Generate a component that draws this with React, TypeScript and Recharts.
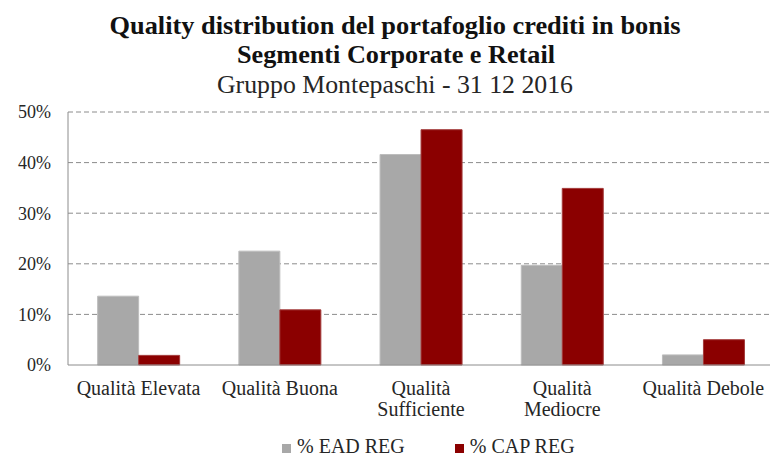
import { BarChart, Bar, XAxis, YAxis, CartesianGrid } from "recharts";

const categories = [
  "Qualità Elevata",
  "Qualità Buona",
  "Qualità Sufficiente",
  "Qualità Mediocre",
  "Qualità Debole",
];
const tickLines = [
  ["Qualità Elevata"],
  ["Qualità Buona"],
  ["Qualità", "Sufficiente"],
  ["Qualità", "Mediocre"],
  ["Qualità Debole"],
];
const eadReg = [13.6, 22.5, 41.6, 19.7, 2.0];
const capReg = [1.9, 10.9, 46.5, 34.9, 5.0];
const yTicks = [0, 10, 20, 30, 40, 50];
const seriesNames = ["% EAD REG", "% CAP REG"];
const seriesColors = ["#A8A8A8", "#8B0000"];
const seriesStrokes = ["#BDBDBD", "#A33A3A"];
const titleLines = [
  "Quality distribution del portafoglio crediti in bonis",
  "Segmenti Corporate e Retail",
  "Gruppo Montepaschi - 31 12 2016",
];

const data = categories.map((name, i) => ({
  name,
  ead: eadReg[i],
  cap: capReg[i],
}));

const FONT = "'Liberation Serif', 'Times New Roman', serif";

function CategoryTick(props: any) {
  const { x, y, payload } = props;
  const lines = tickLines[payload.index] || [payload.value];
  return (
    <text x={x} y={y} textAnchor="middle" fontFamily={FONT} fontSize={20} fill="#262626">
      {lines.map((l: string, i: number) => (
        <tspan key={i} x={x} dy={i === 0 ? 22 : 21}>
          {l}
        </tspan>
      ))}
    </text>
  );
}

export default function App() {
  return (
    <div
      style={{
        position: "absolute",
        left: 0,
        top: 0,
        width: 770,
        height: 457,
        overflow: "hidden",
        background: "#fff",
        fontFamily: FONT,
      }}
    >
      <svg width={770} height={110} style={{ position: "absolute", left: 0, top: 0 }}>
        <text x={395} y={34} textAnchor="middle" fontFamily={FONT} fontSize={25} fontWeight="bold" fill="#111"
          textLength={571} lengthAdjust="spacingAndGlyphs">
          {titleLines[0]}
        </text>
        <text x={396} y={63} textAnchor="middle" fontFamily={FONT} fontSize={25} fontWeight="bold" fill="#111"
          textLength={318} lengthAdjust="spacingAndGlyphs">
          {titleLines[1]}
        </text>
        <text x={395} y={93} textAnchor="middle" fontFamily={FONT} fontSize={25} fill="#262626"
          textLength={356} lengthAdjust="spacingAndGlyphs">
          {titleLines[2]}
        </text>
      </svg>
      <div style={{ position: "absolute", left: 0, top: 0 }}>
        <BarChart
          width={774}
          height={457}
          data={data}
          margin={{ top: 112, right: 0, bottom: 0, left: 0 }}
          barCategoryGap="21%"
          barGap={0}
        >
          <CartesianGrid
            vertical={false}
            stroke="#8C8C8C"
            strokeDasharray="5 3"
            horizontalValues={[10, 20, 30, 40, 50]}
          />
          <XAxis
            dataKey="name"
            height={92}
            axisLine={{ stroke: "#8C8C8C" }}
            tickLine={false}
            tick={<CategoryTick />}
            interval={0}
          />
          <YAxis
            width={68}
            domain={[0, 50]}
            ticks={yTicks}
            tickFormatter={(v: number) => `${v}%`}
            axisLine={{ stroke: "#8C8C8C" }}
            tickLine={false}
            tickMargin={11}
            tick={{ fontFamily: FONT, fontSize: 18, fill: "#262626" }}
          />
          <Bar
            dataKey="ead"
            name={seriesNames[0]}
            fill={seriesColors[0]}
            stroke={seriesStrokes[0]}
            isAnimationActive={false}
          />
          <Bar
            dataKey="cap"
            name={seriesNames[1]}
            fill={seriesColors[1]}
            stroke={seriesStrokes[1]}
            isAnimationActive={false}
          />
        </BarChart>
      </div>
      <div
        style={{
          position: "absolute",
          left: 282,
          top: 436,
          display: "flex",
          alignItems: "flex-start",
          fontSize: 20,
          color: "#262626",
          lineHeight: "20px",
          whiteSpace: "nowrap",
        }}
      >
        {seriesNames.map((n, i) => (
          <div key={n} style={{ display: "flex", alignItems: "flex-start", marginRight: 50 }}>
            <span
              style={{
                display: "inline-block",
                width: 9,
                height: 9,
                background: seriesColors[i],
                marginRight: 6,
                marginTop: 8,
              }}
            />
            <span>{n}</span>
          </div>
        ))}
      </div>
    </div>
  );
}
